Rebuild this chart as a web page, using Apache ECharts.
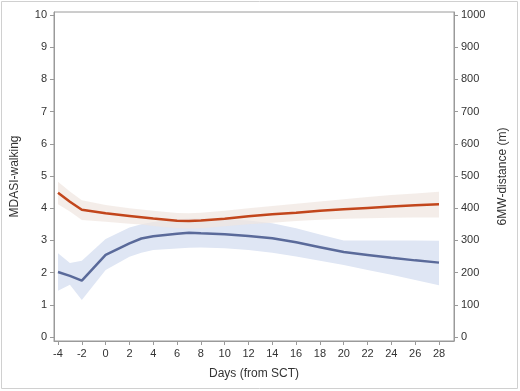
<!DOCTYPE html>
<html><head><meta charset="utf-8">
<script src="https://cdn.jsdelivr.net/npm/echarts@6/dist/echarts.min.js"></script>
<style>html,body{margin:0;padding:0;background:#fff}#c{width:520px;height:391px}</style>
</head><body><div id="c"></div>
<script>
const days = [-4,-3,-2,0,2,3,4,6,7,8,10,12,14,16,18,20,22,24,26,28];
const walkMean  = [2.02,1.90,1.75,2.55,2.91,3.06,3.13,3.21,3.24,3.22,3.19,3.14,3.07,2.94,2.79,2.64,2.55,2.46,2.38,2.31];
const walkLow   = [1.44,1.62,1.15,2.08,2.49,2.62,2.70,2.75,2.77,2.78,2.76,2.70,2.62,2.50,2.37,2.24,2.08,1.93,1.77,1.61];
const walkHigh  = [2.60,2.30,2.37,3.04,3.40,3.50,3.57,3.66,3.68,3.68,3.66,3.62,3.53,3.38,3.18,3.00,3.00,3.00,3.00,2.99];
const distMean  = [448,420,395,384,376,372,368,361,360,362,367,375,381,386,392,397,401,405,409,412];
const distLow   = [412,390,363,358,352,349,345,338,337,338,344,350,355,360,364,367,369,370,371,371];
const distHigh  = [482,452,425,410,400,396,392,385,384,386,392,400,407,414,421,428,435,441,446,451];
const xTicks = [-4,-2,0,2,4,6,8,10,12,14,16,18,20,22,24,26,28];
const yLeftTicks = [0,1,2,3,4,5,6,7,8,9,10];
const yRightTicks = [0,100,200,300,400,500,600,700,800,900,1000];

const pairs = (ys) => days.map((d,i)=>[d, ys[i]]);

function bandSeries(lo, hi, yAxisIndex, color, opacity, z){
  return {
    type:'custom', yAxisIndex, silent:true, z,
    data:[0],
    renderItem:(params, api)=>{
      const pts = [];
      for (let i=0;i<days.length;i++) pts.push(api.coord([days[i], hi[i]]));
      for (let i=days.length-1;i>=0;i--) pts.push(api.coord([days[i], lo[i]]));
      return {type:'polygon', shape:{points:pts}, style:{fill:color, opacity}};
    }
  };
}

const axisCol = '#9a9a9a';
const lblStyle = {color:'#333', fontFamily:'Liberation Sans, Arial', fontSize:11};
const nameStyle = {color:'#333', fontFamily:'Liberation Sans, Arial', fontSize:12};

const chart = echarts.init(document.getElementById('c'), null, {renderer:'canvas'});
chart.setOption({
  animation:false,
  backgroundColor:'#fff',
  graphic:[{type:'rect', shape:{x:1.5,y:1.5,width:516,height:387}, style:{fill:'none', stroke:'#d0d0d0', lineWidth:1}, silent:true}],
  grid:{left:54, top:12, width:400, height:329, show:true, borderColor:axisCol, borderWidth:1, backgroundColor:'transparent'},
  xAxis:{type:'value', min:-4.336, max:29.26,
    name:'Days (from SCT)', nameLocation:'middle', nameGap:27, nameTextStyle:nameStyle,
    axisLine:{show:true, onZero:false, lineStyle:{color:axisCol}},
    axisTick:{show:true, length:4, lineStyle:{color:axisCol}, customValues:xTicks},
    axisLabel:Object.assign({margin:7, customValues:xTicks}, lblStyle),
    splitLine:{show:false}},
  yAxis:[
    {type:'value', min:-0.124, max:10.093, position:'left',
     name:'MDASI-walking', nameLocation:'middle', nameGap:33, nameTextStyle:nameStyle,
     axisLine:{show:true, onZero:false, lineStyle:{color:axisCol}},
     axisTick:{show:true, length:4, lineStyle:{color:axisCol}, customValues:yLeftTicks},
     axisLabel:Object.assign({margin:7, customValues:yLeftTicks}, lblStyle),
     splitLine:{show:false}},
    {type:'value', min:-12.4, max:1009.3, position:'right',
     name:'6MW-distance (m)', nameLocation:'middle', nameGap:43, nameTextStyle:nameStyle,
     axisLine:{show:true, onZero:false, lineStyle:{color:axisCol}},
     axisTick:{show:true, length:4, lineStyle:{color:axisCol}, customValues:yRightTicks},
     axisLabel:Object.assign({margin:7, customValues:yRightTicks, formatter:(v)=>String(v)}, lblStyle),
     splitLine:{show:false}}
  ],
  series:[
    bandSeries(walkLow, walkHigh, 0, '#dfe6f4', 1, 1),
    bandSeries(distLow, distHigh, 1, '#efe5df', 0.7, 2),
    {type:'line', name:'MDASI-walking', data:pairs(walkMean), symbol:'none', lineStyle:{color:'#5a6a9a', width:2.5}, z:5},
    {type:'line', name:'6MW-distance', yAxisIndex:1, data:pairs(distMean), symbol:'none', lineStyle:{color:'#c2461c', width:2.5}, z:5}
  ]
});
</script></body></html>
